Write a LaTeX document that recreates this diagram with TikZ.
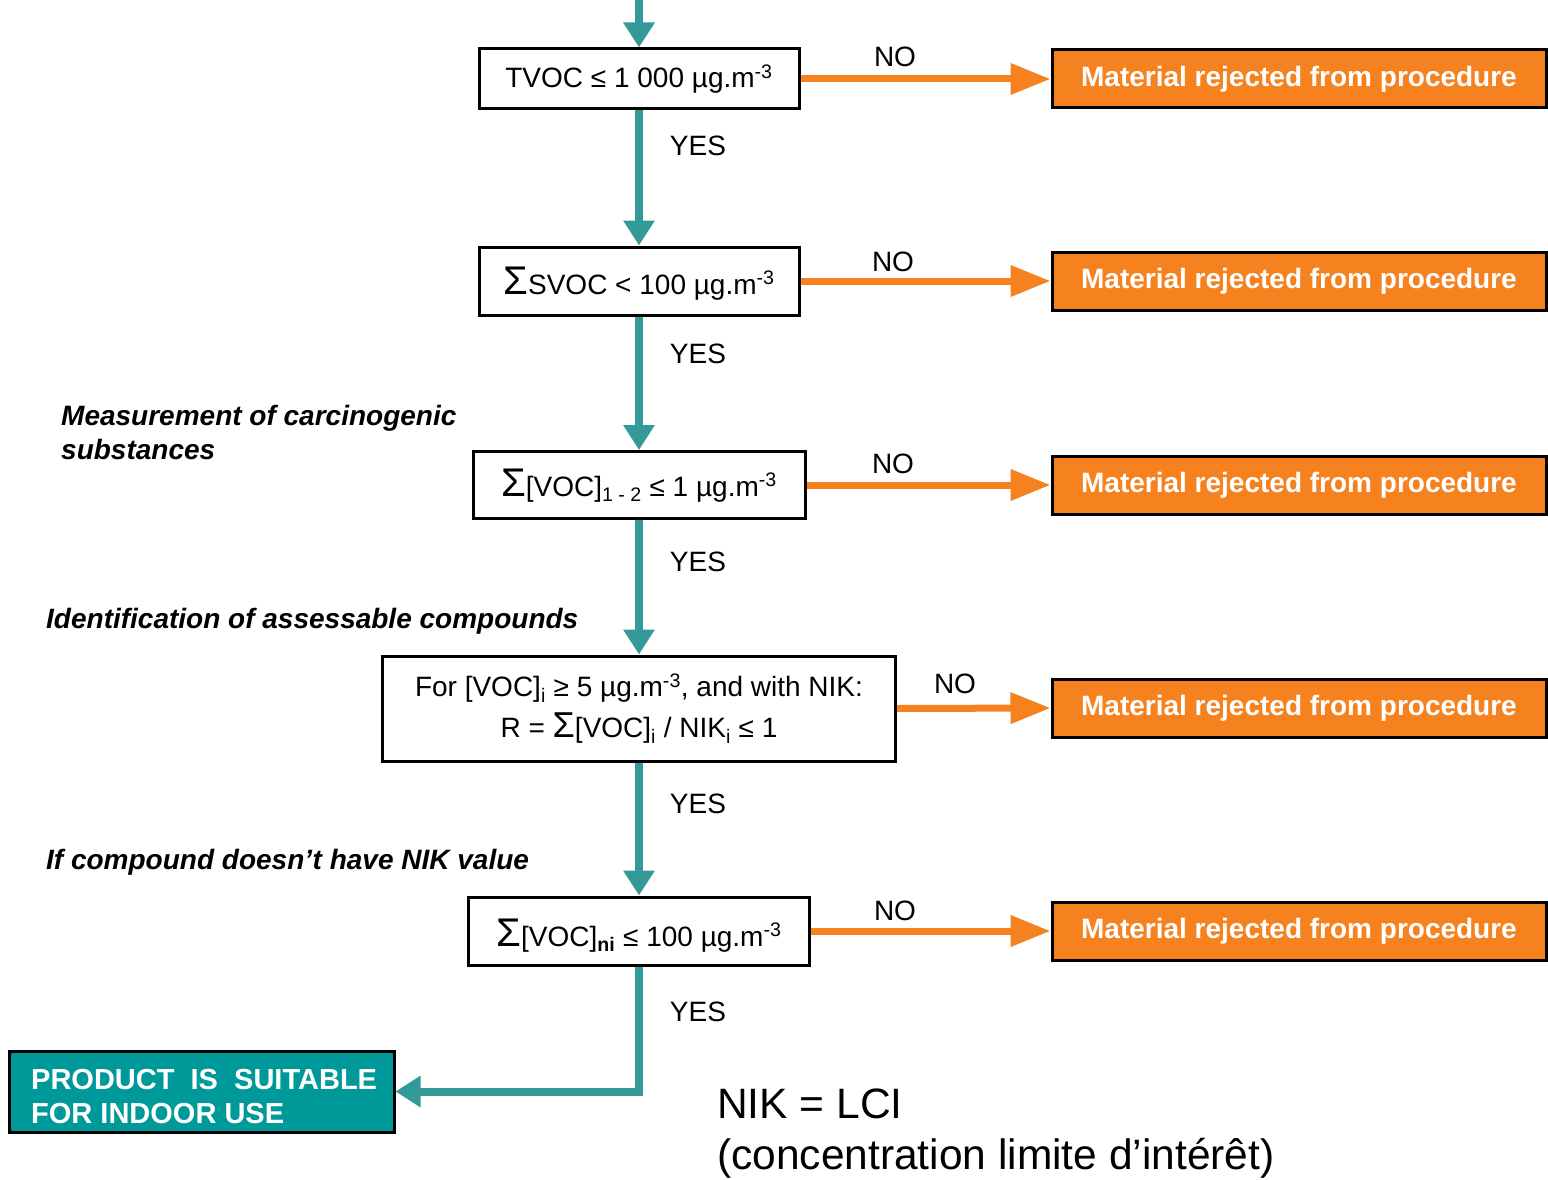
\documentclass[tikz,border=0pt]{standalone}
\usepackage{fontspec}
\setmainfont{Liberation Sans}
\usetikzlibrary{arrows.meta}
\definecolor{teal1}{HTML}{339999}
\definecolor{tealfill}{HTML}{009999}
\definecolor{orange1}{HTML}{F5821F}
\newcommand{\bigsig}{{\fontsize{40}{40}\selectfont Σ}}
\begin{document}
\begin{tikzpicture}[x=1pt,y=-1pt,
  testbox/.style={draw=black,line width=3pt,fill=white,inner sep=0pt,align=center,
     font=\fontsize{28}{41}\selectfont},
  rejbox/.style={draw=black,line width=3pt,fill=orange1,text=white,inner sep=0pt,
     minimum width=494pt,minimum height=58pt,font=\bfseries\fontsize{28}{32}\selectfont},
  yesarrow/.style={draw=teal1,line width=8pt,-{Triangle[length=25pt,width=30pt]}},
  noarrow/.style={draw=orange1,line width=7pt,-{Triangle[length=40pt,width=30pt]}},
  lbl/.style={font=\fontsize{28}{32}\selectfont,inner sep=0pt},
  note/.style={font=\bfseries\itshape\fontsize{28}{34}\selectfont,inner sep=0pt,anchor=west,align=left}]
\useasboundingbox (0,0) rectangle (1548,1180);
% test boxes
\node[testbox,minimum width=320pt,minimum height=60pt] (b1) at (639,79) {TVOC ≤ 1 000 µg.m\textsuperscript{-3}};
\node[testbox,minimum width=320pt,minimum height=68pt] (b2) at (639,281) {\raisebox{-13pt}[0pt][0pt]{\bigsig SVOC < 100 µg.m\textsuperscript{-3}}};
\node[testbox,minimum width=332pt,minimum height=67pt] (b3) at (639,485) {\raisebox{-11pt}[0pt][0pt]{\bigsig[VOC]\textsubscript{1 - 2} ≤ 1 µg.m\textsuperscript{-3}}};
\node[testbox,minimum width=513pt,minimum height=105pt] (b4) at (639,708.5) {For [VOC]\textsubscript{i} ≥ 5 µg.m\textsuperscript{-3}, and with NIK:\\R = {\fontsize{36}{36}\selectfont Σ}[VOC]\textsubscript{i} / NIK\textsubscript{i} ≤ 1};
\node[testbox,minimum width=341pt,minimum height=68pt] (b5) at (639,931) {\raisebox{-15pt}[0pt][0pt]{\bigsig[VOC]\textsubscript{\bfseries ni} ≤ 100 µg.m\textsuperscript{-3}}};
% rejection boxes
\node[rejbox] (r1) at (1299,79) {Material rejected from procedure};
\node[rejbox] (r2) at (1299,281) {Material rejected from procedure};
\node[rejbox] (r3) at (1299,485) {Material rejected from procedure};
\node[rejbox] (r4) at (1299,708) {Material rejected from procedure};
\node[rejbox] (r5) at (1299,931) {Material rejected from procedure};
% product box
\node[draw=black,line width=3pt,fill=tealfill,minimum width=385pt,minimum height=81pt,
  inner sep=0pt] (prod) at (201.5,1091.5) {};
\node[anchor=west,text=white,align=left,inner sep=0pt,font=\bfseries\fontsize{29}{34}\selectfont] (prodtxt) at (31,1097)
  {PRODUCT \ IS \ SUITABLE\\FOR INDOOR USE};
% arrows
\coordinate (top) at (639,0);
\draw[yesarrow] (top) -- (b1.north);
\draw[yesarrow] (b1.south) -- (b2.north);
\draw[yesarrow] (b2.south) -- (b3.north);
\draw[yesarrow] (b3.south) -- (b4.north);
\draw[yesarrow] (b4.south) -- (b5.north);
\draw[yesarrow] (b5.south) |- (prod.east);
\draw[noarrow] (b1.east) -- (r1.west);
\draw[noarrow] (b2.east) -- (r2.west);
\draw[noarrow] (b3.east) -- (r3.west);
\draw[noarrow] (b4.east) -- (r4.west);
\draw[noarrow] (b5.east) -- (r5.west);
% labels
\node[lbl] (no1) at (895,57) {NO};
\node[lbl] (no2) at (893,262) {NO};
\node[lbl] (no3) at (893,464) {NO};
\node[lbl] (no4) at (955,684) {NO};
\node[lbl] (no5) at (895,911) {NO};
\node[lbl] (y1) at (698,146) {YES};
\node[lbl] (y2) at (698,354) {YES};
\node[lbl] (y3) at (698,562) {YES};
\node[lbl] (y4) at (698,804) {YES};
\node[lbl] (y5) at (698,1012) {YES};
% notes
\node[note] (n1) at (61,432) {Measurement of carcinogenic\\substances};
\node[note] (n2) at (46,621) {Identification of assessable compounds};
\node[note] (n3) at (46,862) {If compound doesn’t have NIK value};
\node[anchor=west,align=left,inner sep=0pt,font=\fontsize{42.5}{51}\selectfont] (nik) at (717,1134)
  {NIK = LCI\\(concentration limite d’intérêt)};
\end{tikzpicture}
\end{document}
